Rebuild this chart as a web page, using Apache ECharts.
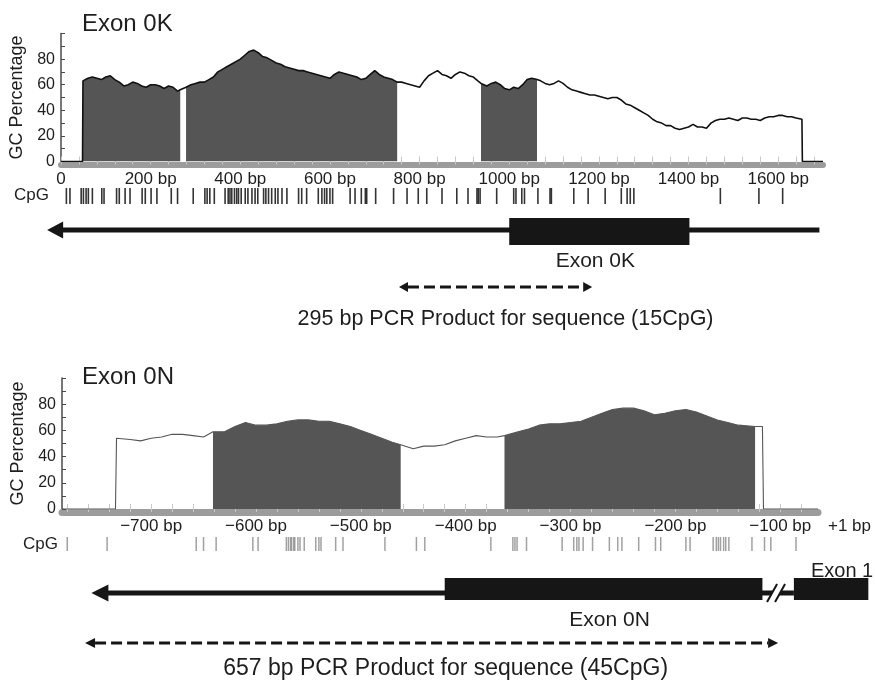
<!DOCTYPE html>
<html>
<head>
<meta charset="utf-8">
<script src="https://cdn.jsdelivr.net/npm/echarts@6/dist/echarts.min.js"></script>
<style>
  html, body { margin: 0; padding: 0; background: #fff; }
  #main { width: 875px; height: 680px; }
</style>
</head>
<body>
<div id="main"></div>
<script>
// ---------- Exon 0K region (positions in bp from 0) ----------
const gcK = [
  [0,0],[48,0],[49,63],[60,65],[70,66],[80,65],[90,64],[100,66],[110,67],[120,64],[130,62],[140,59],
  [150,60],[160,62],[170,61],[180,59],[190,58],[200,60],[210,60],[220,59],[230,57],[240,59],[250,58],
  [260,55],[266,56],[270,57],[279,58],[290,60],[300,61],[310,62],[320,62],[330,64],[340,66],[350,70],
  [360,72],[370,74],[380,76],[390,78],[400,80],[410,83],[420,86],[430,87],[440,85],[450,82],[460,81],
  [470,79],[480,77],[490,76],[500,74],[510,73],[520,72],[530,71],[540,71],[550,70],[560,69],[570,68],
  [580,67],[590,66],[600,65],[610,68],[620,70],[630,69],[640,68],[650,67],[660,66],[670,64],[680,65],
  [690,68],[700,71],[710,68],[720,66],[730,65],[740,64],[750,62],[760,62],[770,61],[780,60],[790,59],
  [800,58],[810,63],[820,67],[830,69],[840,71],[850,68],[860,67],[870,65],[880,68],[890,70],[900,69],
  [910,67],[920,66],[930,63],[937,61],[950,59],[960,61],[970,62],[980,60],[990,57],[1000,56],[1010,58],
  [1020,57],[1030,60],[1040,64],[1050,65],[1062,64],[1070,63],[1080,61],[1090,60],[1100,61],[1110,63],
  [1120,61],[1130,58],[1140,56],[1150,55],[1160,54],[1170,53],[1180,52],[1190,52],[1200,51],[1210,50],
  [1220,49],[1230,50],[1240,50],[1250,48],[1260,45],[1270,44],[1280,42],[1290,40],[1300,38],[1310,36],
  [1320,33],[1330,31],[1340,30],[1350,28],[1360,28],[1370,26],[1380,25],[1390,26],[1400,27],[1410,29],
  [1420,27],[1430,27],[1440,26],[1450,30],[1460,32],[1470,33],[1480,33],[1490,34],[1500,33],[1510,32],
  [1520,34],[1530,34],[1540,33],[1550,33],[1560,32],[1570,34],[1580,35],[1590,35],[1600,36],[1610,36],
  [1620,35],[1630,35],[1640,34],[1653,33],[1654,0],[1700,0]
];
const islandsK = [[49, 266], [279, 750], [937, 1062]];
const cpgK = [
  12, 20, 45, 50, 56, 61, 70, 91, 96, 124, 130, 143, 154, 181, 188, 201, 214, 246, 260, 295, 321, 326,
  332, 342, 366, 373, 377, 381, 387, 392, 396, 402, 411, 417, 426, 433, 439, 452, 457, 463, 470, 478,
  484, 493, 504, 530, 537, 548, 574, 582, 588, 593, 600, 606, 645, 656, 670, 679, 682, 702, 742, 772,
  797, 816, 850, 883, 908, 928, 931, 935, 972, 1010, 1015, 1028, 1034, 1064, 1091, 1094, 1144, 1176,
  1214, 1250, 1263, 1270, 1278, 1471, 1557, 1610
];
const xLabelsK = [0, 200, 400, 600, 800, 1000, 1200, 1400, 1600];
const strandK = [-31, 1692];
const exonK = [1000, 1402];
const pcrK = [754, 1185];

// ---------- Exon 0N region (positions in bp relative to +1) ----------
const gcN = [
  [-785,0],[-734,0],[-733,54],[-720,53],[-710,52],[-700,54],[-690,55],[-680,57],[-670,57],[-660,56],
  [-650,55],[-641,59],[-630,59],[-620,63],[-610,66],[-600,64],[-590,64],[-580,65],[-570,67],[-560,68],
  [-550,68],[-540,67],[-530,67],[-520,65],[-510,63],[-500,60],[-490,57],[-480,54],[-470,51],[-462,49],
  [-450,46],[-440,48],[-430,48],[-420,49],[-410,52],[-400,54],[-390,56],[-380,55],[-370,55],[-363,56],
  [-350,59],[-340,61],[-330,64],[-320,65],[-310,65],[-300,66],[-290,67],[-280,70],[-270,73],[-260,76],
  [-250,77],[-240,77],[-230,75],[-220,72],[-210,73],[-200,75],[-190,76],[-180,74],[-170,71],[-160,68],
  [-150,66],[-140,64],[-124,63],[-117,63],[-116,0],[-64,0]
];
const islandsN = [[-641, -462], [-363, -124]];
const cpgN = [
  -780, -742, -657, -650, -638, -603, -598, -571, -569, -567, -566, -564, -563, -560, -558, -554,
  -543, -540, -538, -524, -517, -477, -447, -439, -376, -355, -353, -351, -342, -308, -297, -294,
  -292, -288, -279, -263, -255, -251, -235, -219, -214, -190, -186, -164, -161, -159, -157, -154,
  -152, -149, -127, -115, -109, -85
];
const xLabelsN = [-700, -600, -500, -400, -300, -200, -100];
const strandN = [-757, -87];
const exonN = [-420, -117];
const exon1N = [-87, -16];
const breakN = -104;
const pcrN = [-763, -102];

const yLabels = [0, 20, 40, 60, 80];

// ---------- styling ----------
const FONT = '"Liberation Sans", Arial, Helvetica, sans-serif';
const INK = '#161616';
const FILL = '#555555';
const TXT = '#1e1e1e';

const chart = echarts.init(document.getElementById('main'), null, { renderer: 'canvas' });

function ticksBetween(a, b, step) {
  const t = [];
  for (let v = a; v <= b; v += step) t.push(v);
  return t;
}

function islandSeries(data, islands, axis) {
  return islands.map(([a, b]) => ({
    type: 'line', xAxisIndex: axis, yAxisIndex: axis, silent: true, z: 2,
    data: data.filter(p => p[0] >= a && p[0] <= b),
    symbol: 'none', lineStyle: { width: 0 },
    areaStyle: { color: FILL, opacity: 1 }
  }));
}

function gcAxes(idx, min, max, labels, tickStep, fmt, band) {
  const x = {
    type: 'value', gridIndex: idx, min: min, max: max, offset: band.offset,
    axisLine: { show: true, onZero: false, lineStyle: { color: '#9c9c9c', width: band.width } },
    axisTick: { show: true, inside: true, length: 8, customValues: ticksBetween(tickStep.from, tickStep.to, tickStep.step),
                lineStyle: { color: '#c9c9c9', width: 1 } },
    axisLabel: { customValues: labels, formatter: fmt, fontSize: 17, fontFamily: FONT, color: TXT, margin: 6 },
    splitLine: { show: false }
  };
  const y = {
    type: 'value', gridIndex: idx, min: 0, max: 100, interval: 20,
    name: 'GC Percentage', nameLocation: 'middle', nameGap: 32, nameRotate: 90,
    nameTextStyle: { fontSize: 18, fontFamily: FONT, color: TXT },
    axisLine: { show: true, lineStyle: { color: '#4a4a4a', width: 1.5 } },
    axisTick: { show: true, inside: true, length: 4, lineStyle: { color: '#4a4a4a' } },
    minorTick: { show: true, splitNumber: 2, length: 4, lineStyle: { color: '#4a4a4a' } },
    axisLabel: { customValues: yLabels, fontSize: 16, fontFamily: FONT, color: TXT, margin: 6 },
    splitLine: { show: false }
  };
  return { x, y };
}

function hiddenAxes(idx, min, max) {
  return {
    x: { type: 'value', gridIndex: idx, min: min, max: max, show: false },
    y: { type: 'value', gridIndex: idx, min: 0, max: 1, show: false }
  };
}

// Gene structure drawn in the diagram grid: backbone with upstream arrowhead,
// exon boxes, a break mark and the PCR product (dashed double-headed arrow).
const KIND = { strand: 0, exon: 1, pcr: 2, brk: 3 };

function diagramSeries(axis, items, L) {
  return {
    type: 'custom', xAxisIndex: axis, yAxisIndex: axis, silent: true, clip: false, z: 5,
    data: items.map(it => [it.from, it.to, it.kind]),
    renderItem: function (params, api) {
      const it = items[params.dataIndex];
      const x0 = api.coord([api.value(0), 0])[0];
      const x1 = api.coord([api.value(1), 0])[0];
      const top = params.coordSys.y;
      const ch = [];
      if (it.kind === KIND.strand) {
        const y = top + L.axisY;
        ch.push({ type: 'line', shape: { x1: x0 + 8, y1: y, x2: x1, y2: y }, style: { stroke: INK, lineWidth: L.axisW } });
        ch.push({ type: 'polygon', shape: { points: [[x0, y], [x0 + L.headLen, y - L.headH], [x0 + L.headLen, y + L.headH]] }, style: { fill: INK } });
      } else if (it.kind === KIND.exon) {
        ch.push({ type: 'rect', shape: { x: x0, y: top + it.boxTop, width: x1 - x0, height: it.boxH }, style: { fill: INK } });
        if (it.label) {
          ch.push({ type: 'text', style: { text: it.label, x: (x0 + x1) / 2 + (it.labelDx || 0), y: top + it.labelY,
            fontSize: it.labelSize, fontFamily: FONT, fill: TXT, align: 'center', verticalAlign: 'middle' } });
        }
      } else if (it.kind === KIND.pcr) {
        const y = top + L.pcrY;
        ch.push({ type: 'line', shape: { x1: x0 + L.pcrHead, y1: y, x2: x1 - L.pcrHead, y2: y },
          style: { stroke: INK, lineWidth: 3.2, lineDash: [11, 5] } });
        ch.push({ type: 'polygon', shape: { points: [[x0, y], [x0 + L.pcrHead, y - L.pcrHeadH], [x0 + L.pcrHead, y + L.pcrHeadH]] }, style: { fill: INK } });
        ch.push({ type: 'polygon', shape: { points: [[x1, y], [x1 - L.pcrHead, y - L.pcrHeadH], [x1 - L.pcrHead, y + L.pcrHeadH]] }, style: { fill: INK } });
        ch.push({ type: 'text', style: { text: it.label, x: (x0 + x1) / 2 + L.textDx, y: top + L.textY,
          fontSize: L.textSize, fontFamily: FONT, fill: TXT, align: 'center', verticalAlign: 'middle' } });
      } else if (it.kind === KIND.brk) {
        const y = top + L.axisY, cx = x0, d = 4, h = 9, s = 5;
        ch.push({ type: 'polygon', shape: { points: [[cx - d - s, y + h], [cx - d + s, y - h], [cx + d + s, y - h], [cx + d - s, y + h]] }, style: { fill: '#fff' } });
        ch.push({ type: 'line', shape: { x1: cx - d - s, y1: y + h, x2: cx - d + s, y2: y - h }, style: { stroke: INK, lineWidth: 2 } });
        ch.push({ type: 'line', shape: { x1: cx + d - s, y1: y + h, x2: cx + d + s, y2: y - h }, style: { stroke: INK, lineWidth: 2 } });
      }
      return { type: 'group', children: ch };
    }
  };
}

const axK = gcAxes(0, 0, 1700, xLabelsK, { from: 0, to: 1680, step: 40 },
  v => (v === 0 ? '0' : v + ' bp'), { offset: 3, width: 6 });
const axN = gcAxes(3, -785, -64, xLabelsN, { from: -780, to: -80, step: 20 },
  v => '\u2212' + Math.abs(v) + ' bp', { offset: 3, width: 7 });
axN.y.nameGap = 33;

const cpgAxK = hiddenAxes(1, 0, 1700);
const diaAxK = hiddenAxes(2, 0, 1700);
const cpgAxN = hiddenAxes(4, -785, -64);
const diaAxN = hiddenAxes(5, -785, -64);

const layoutK = { axisY: 30, axisW: 5, headLen: 16, headH: 8.5, pcrY: 87, pcrHead: 9, pcrHeadH: 5, textY: 119, textDx: 10, textSize: 21.5 };
const layoutN = { axisY: 33, axisW: 5, headLen: 17, headH: 8.5, pcrY: 83, pcrHead: 10, pcrHeadH: 5, textY: 109, textDx: 14, textSize: 23 };

const itemsK = [
  { kind: KIND.strand, from: strandK[0], to: strandK[1] },
  { kind: KIND.exon, from: exonK[0], to: exonK[1], boxTop: 18, boxH: 27, label: 'Exon 0K', labelY: 61, labelSize: 21, labelDx: -4 },
  { kind: KIND.pcr, from: pcrK[0], to: pcrK[1], label: '295 bp PCR Product for sequence (15CpG)' }
];
const itemsN = [
  { kind: KIND.strand, from: strandN[0], to: strandN[1] },
  { kind: KIND.exon, from: exonN[0], to: exonN[1], boxTop: 18, boxH: 22, label: 'Exon 0N', labelY: 60, labelSize: 21, labelDx: 6 },
  { kind: KIND.brk, from: breakN, to: breakN },
  { kind: KIND.exon, from: exon1N[0], to: exon1N[1], boxTop: 18, boxH: 22, label: 'Exon 1', labelY: 11, labelSize: 20, labelDx: 11 },
  { kind: KIND.pcr, from: pcrN[0], to: pcrN[1], label: '657 bp PCR Product for sequence (45CpG)' }
];

const option = {
  animation: false,
  backgroundColor: '#ffffff',
  title: [
    { text: 'Exon 0K', left: 82, top: 12, padding: 0, textStyle: { fontSize: 24, fontWeight: 'normal', fontFamily: FONT, color: TXT } },
    { text: 'Exon 0N', left: 82, top: 365, padding: 0, textStyle: { fontSize: 24, fontWeight: 'normal', fontFamily: FONT, color: TXT } }
  ],
  grid: [
    { left: 61, right: 52, top: 33.5, height: 128 },
    { left: 61, right: 52, top: 188, height: 16 },
    { left: 61, right: 52, top: 200, height: 140 },
    { left: 62, right: 57, top: 378, height: 131 },
    { left: 62, right: 57, top: 537, height: 14 },
    { left: 62, right: 57, top: 560, height: 120 }
  ],
  xAxis: [axK.x, cpgAxK.x, diaAxK.x, axN.x, cpgAxN.x, diaAxN.x],
  yAxis: [axK.y, cpgAxK.y, diaAxK.y, axN.y, cpgAxN.y, diaAxN.y],
  graphic: [
    { type: 'text', right: 875 - 49, top: 187, style: { text: 'CpG', fontSize: 17, fontFamily: FONT, fill: TXT } },
    { type: 'text', right: 875 - 58, top: 536, style: { text: 'CpG', fontSize: 17, fontFamily: FONT, fill: TXT } },
    { type: 'text', left: 828, top: 518, style: { text: '+1 bp', fontSize: 17, fontFamily: FONT, fill: TXT } }
  ],
  series: [
    ...islandSeries(gcK, islandsK, 0),
    { type: 'line', xAxisIndex: 0, yAxisIndex: 0, data: gcK, symbol: 'none', z: 3, silent: true,
      lineStyle: { color: '#111', width: 1.6 } },
    { type: 'scatter', xAxisIndex: 1, yAxisIndex: 1, data: cpgK.map(v => [v, 0.5]), symbol: 'rect',
      symbolSize: [1.6, 16], itemStyle: { color: '#111', opacity: 0.85 }, silent: true },
    diagramSeries(2, itemsK, layoutK),

    ...islandSeries(gcN, islandsN, 3),
    { type: 'line', xAxisIndex: 3, yAxisIndex: 3, data: gcN, symbol: 'none', z: 3, silent: true,
      lineStyle: { color: '#555', width: 1.1 } },
    { type: 'scatter', xAxisIndex: 4, yAxisIndex: 4, data: cpgN.map(v => [v, 0.5]), symbol: 'rect',
      symbolSize: [1.5, 14], itemStyle: { color: '#8a8a8a' }, silent: true },
    diagramSeries(5, itemsN, layoutN)
  ]
};

chart.setOption(option);
</script>
</body>
</html>
